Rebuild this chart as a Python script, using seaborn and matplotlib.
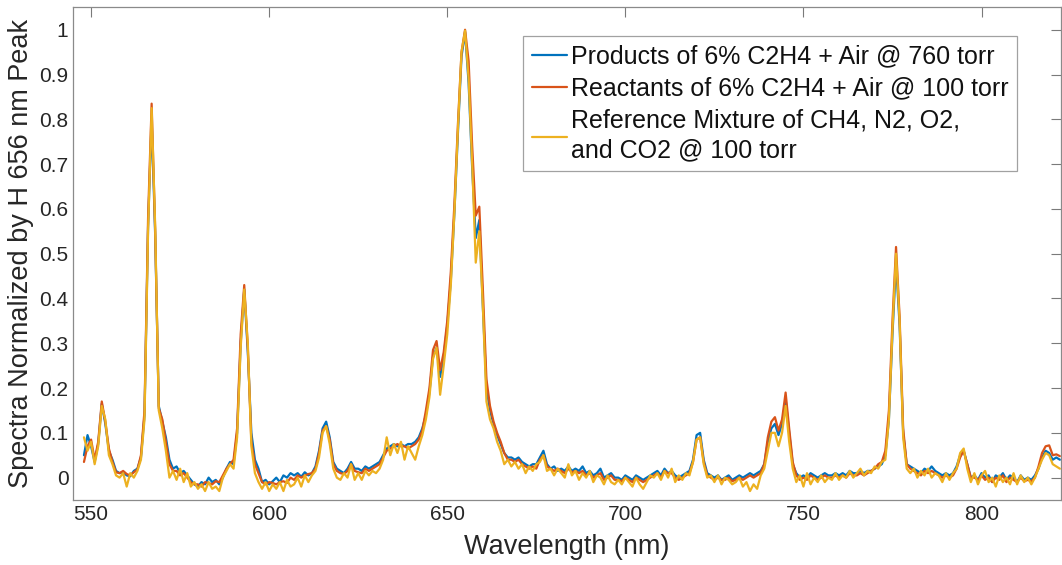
import numpy as np
import pandas as pd
import matplotlib
matplotlib.use("Agg")
import matplotlib.pyplot as plt
import matplotlib.ticker as mticker
import seaborn as sns

# Wavelength grid (nm), 1 nm steps from 548 to 822
wavelength = np.arange(548, 823, 1)

# Products of 6% C2H4 + Air @ 760 torr (blue)
products = [
    0.050, 0.095, 0.070, 0.035, 0.075, 0.165, 0.120, 0.060, 0.040, 0.015,
    0.010, 0.012, 0.005, 0.003, 0.015, 0.020, 0.045, 0.140, 0.560, 0.800,
    0.540, 0.160, 0.125, 0.090, 0.040, 0.020, 0.025, 0.010, 0.015, 0.005,
    -0.005, -0.015, -0.020, -0.010, -0.015, 0.000, -0.010, -0.005, -0.015, 0.000,
    0.020, 0.035, 0.030, 0.100, 0.300, 0.420, 0.280, 0.100, 0.040, 0.020,
    -0.010, -0.005, -0.015, -0.008, 0.000, -0.010, 0.005, 0.000, 0.010, 0.005,
    0.010, 0.002, 0.012, 0.005, 0.010, 0.025, 0.060, 0.110, 0.125, 0.090,
    0.035, 0.020, 0.015, 0.010, 0.020, 0.035, 0.020, 0.020, 0.015, 0.025,
    0.020, 0.025, 0.030, 0.035, 0.050, 0.065, 0.070, 0.075, 0.070, 0.075,
    0.070, 0.075, 0.075, 0.080, 0.090, 0.110, 0.140, 0.190, 0.270, 0.290,
    0.225, 0.270, 0.340, 0.440, 0.590, 0.770, 0.940, 0.995, 0.880, 0.690,
    0.535, 0.575, 0.380, 0.200, 0.150, 0.120, 0.095, 0.075, 0.055, 0.045,
    0.045, 0.040, 0.045, 0.035, 0.030, 0.025, 0.030, 0.030, 0.045, 0.060,
    0.030, 0.020, 0.025, 0.015, 0.020, 0.015, 0.025, 0.015, 0.020, 0.015,
    0.025, 0.010, 0.015, 0.005, 0.010, 0.020, 0.000, 0.005, 0.010, 0.000,
    0.000, -0.005, 0.005, 0.000, -0.005, 0.005, 0.000, -0.005, 0.000, 0.005,
    0.010, 0.015, 0.005, 0.020, 0.010, 0.015, 0.005, 0.000, 0.005, 0.010,
    0.015, 0.040, 0.095, 0.100, 0.040, 0.010, 0.005, 0.000, 0.005, -0.005,
    0.000, 0.005, -0.005, 0.000, 0.005, 0.000, 0.005, 0.010, 0.005, 0.010,
    0.015, 0.030, 0.080, 0.110, 0.120, 0.095, 0.120, 0.175, 0.100, 0.030,
    0.010, 0.000, 0.005, 0.000, 0.010, 0.005, 0.000, 0.005, 0.010, 0.005,
    0.005, 0.010, 0.005, 0.010, 0.005, 0.015, 0.010, 0.010, 0.015, 0.010,
    0.015, 0.015, 0.020, 0.025, 0.030, 0.050, 0.130, 0.320, 0.480, 0.340,
    0.100, 0.030, 0.025, 0.020, 0.015, 0.010, 0.020, 0.015, 0.025, 0.015,
    0.010, 0.005, 0.010, 0.005, 0.010, 0.025, 0.050, 0.060, 0.030, 0.000,
    0.005, -0.005, 0.010, 0.000, 0.005, -0.010, 0.005, 0.000, 0.010, -0.005,
    0.005, 0.000, -0.010, 0.005, -0.005, 0.000, -0.005, 0.005, 0.020, 0.045,
    0.060, 0.055, 0.040, 0.045, 0.040,
]

# Reactants of 6% C2H4 + Air @ 100 torr (red)
reactants = [
    0.035, 0.070, 0.085, 0.040, 0.080, 0.170, 0.125, 0.065, 0.035, 0.012,
    0.010, 0.015, 0.008, 0.005, 0.012, 0.018, 0.050, 0.150, 0.580, 0.835,
    0.550, 0.155, 0.130, 0.080, 0.030, 0.015, 0.015, 0.005, 0.010, 0.000,
    -0.010, -0.015, -0.015, -0.020, -0.010, -0.012, -0.015, -0.008, -0.010, 0.005,
    0.020, 0.030, 0.040, 0.110, 0.320, 0.430, 0.290, 0.080, 0.030, 0.010,
    -0.010, -0.015, -0.010, -0.012, -0.015, -0.010, -0.008, -0.012, 0.000, -0.005,
    0.005, 0.000, 0.005, 0.008, 0.010, 0.020, 0.055, 0.105, 0.115, 0.085,
    0.030, 0.015, 0.010, 0.008, 0.015, 0.030, 0.015, 0.012, 0.010, 0.020,
    0.015, 0.020, 0.025, 0.030, 0.045, 0.060, 0.065, 0.070, 0.075, 0.070,
    0.070, 0.065, 0.070, 0.075, 0.085, 0.105, 0.150, 0.200, 0.285, 0.305,
    0.240, 0.280, 0.350, 0.460, 0.610, 0.790, 0.950, 1.000, 0.930, 0.740,
    0.585, 0.605, 0.420, 0.220, 0.160, 0.125, 0.100, 0.080, 0.055, 0.040,
    0.040, 0.035, 0.040, 0.030, 0.025, 0.020, 0.025, 0.020, 0.040, 0.050,
    0.025, 0.020, 0.015, 0.020, 0.015, 0.010, 0.020, 0.012, 0.015, 0.010,
    0.015, 0.005, 0.010, 0.000, 0.005, 0.010, -0.005, 0.000, 0.005, -0.005,
    -0.005, -0.008, 0.000, -0.005, -0.010, 0.000, -0.005, -0.010, -0.005, 0.000,
    0.005, 0.010, 0.000, 0.015, 0.010, 0.010, 0.000, -0.005, 0.000, 0.005,
    0.010, 0.035, 0.085, 0.090, 0.035, 0.005, 0.000, -0.005, 0.000, -0.005,
    -0.005, 0.000, -0.008, -0.005, 0.000, -0.005, 0.000, 0.005, 0.000, 0.005,
    0.010, 0.030, 0.090, 0.125, 0.135, 0.105, 0.130, 0.190, 0.110, 0.035,
    0.005, -0.005, 0.000, -0.005, 0.005, 0.000, -0.005, 0.000, 0.005, 0.000,
    0.000, 0.005, 0.000, 0.005, 0.000, 0.010, 0.005, 0.005, 0.010, 0.005,
    0.010, 0.015, 0.020, 0.030, 0.035, 0.060, 0.150, 0.350, 0.515, 0.360,
    0.110, 0.030, 0.020, 0.015, 0.010, 0.005, 0.015, 0.010, 0.015, 0.010,
    0.005, 0.000, 0.005, 0.000, 0.005, 0.020, 0.045, 0.060, 0.030, 0.000,
    0.000, -0.005, 0.005, -0.005, 0.000, -0.010, 0.000, -0.005, 0.005, -0.010,
    0.000, -0.005, -0.010, 0.000, -0.008, -0.005, -0.008, 0.000, 0.025, 0.055,
    0.070, 0.072, 0.050, 0.052, 0.048,
]

# Reference Mixture of CH4, N2, O2, and CO2 @ 100 torr (yellow)
reference = [
    0.090, 0.060, 0.080, 0.030, 0.070, 0.160, 0.130, 0.050, 0.030, 0.005,
    0.000, 0.010, -0.020, 0.010, 0.000, 0.015, 0.040, 0.130, 0.550, 0.825,
    0.560, 0.150, 0.110, 0.060, 0.000, 0.015, -0.005, 0.020, -0.010, 0.010,
    -0.020, -0.010, -0.025, -0.015, -0.030, -0.010, -0.025, -0.020, -0.030, 0.000,
    0.015, 0.030, 0.020, 0.090, 0.290, 0.420, 0.300, 0.070, 0.010, -0.010,
    -0.025, -0.010, -0.030, -0.015, -0.025, -0.010, -0.030, -0.005, -0.020, -0.015,
    0.000, -0.020, 0.005, -0.010, 0.005, 0.015, 0.045, 0.100, 0.115, 0.075,
    0.020, 0.000, -0.005, 0.010, 0.000, 0.030, -0.005, 0.010, -0.005, 0.015,
    0.005, 0.015, 0.010, 0.020, 0.040, 0.090, 0.050, 0.075, 0.055, 0.080,
    0.040, 0.070, 0.055, 0.040, 0.070, 0.095, 0.130, 0.180, 0.265, 0.290,
    0.185, 0.250, 0.320, 0.430, 0.590, 0.780, 0.950, 0.998, 0.890, 0.700,
    0.480, 0.550, 0.380, 0.170, 0.130, 0.110, 0.080, 0.060, 0.030, 0.040,
    0.025, 0.035, 0.020, 0.030, 0.010, 0.025, 0.015, 0.030, 0.035, 0.050,
    0.015, 0.020, 0.005, 0.020, 0.010, 0.000, 0.030, 0.005, 0.015, -0.005,
    0.010, 0.000, 0.015, -0.010, 0.005, 0.000, -0.015, 0.005, -0.010, -0.015,
    -0.005, -0.015, 0.000, -0.010, -0.020, 0.000, -0.015, -0.025, -0.010, 0.005,
    0.000, 0.010, -0.005, 0.015, 0.000, 0.020, -0.010, 0.005, -0.005, 0.010,
    0.005, 0.035, 0.085, 0.090, 0.030, 0.000, 0.005, -0.010, 0.005, -0.015,
    0.000, -0.005, -0.015, -0.010, 0.000, -0.020, -0.010, -0.030, -0.015, -0.025,
    0.005, 0.020, 0.060, 0.100, 0.100, 0.070, 0.100, 0.160, 0.080, 0.020,
    -0.010, 0.005, -0.020, 0.010, -0.015, 0.000, -0.010, 0.005, -0.010, 0.000,
    -0.005, 0.010, -0.005, 0.005, 0.000, 0.015, 0.000, 0.010, 0.020, 0.005,
    0.015, 0.010, 0.025, 0.020, 0.035, 0.040, 0.130, 0.330, 0.500, 0.350,
    0.090, 0.020, 0.010, 0.020, 0.000, 0.015, 0.005, 0.020, 0.000, 0.010,
    0.005, -0.010, 0.010, -0.005, 0.010, 0.020, 0.055, 0.065, 0.020, -0.010,
    0.010, -0.015, 0.005, 0.015, -0.010, 0.000, -0.020, 0.005, -0.010, 0.000,
    -0.015, 0.010, -0.015, 0.005, -0.010, 0.000, -0.015, 0.000, 0.020, 0.040,
    0.055, 0.050, 0.030, 0.025, 0.020,
]

labels = [
    "Products of 6% C2H4 + Air @ 760 torr",
    "Reactants of 6% C2H4 + Air @ 100 torr",
    "Reference Mixture of CH4, N2, O2,\nand CO2 @ 100 torr",
]
colors = ["#0072BD", "#D95319", "#EDB120"]

df = pd.concat([
    pd.DataFrame({"wavelength": wavelength, "value": vals, "series": lab})
    for vals, lab in zip([products, reactants, reference], labels)
])

sns.set_theme(style="white")
plt.rcParams["font.family"] = ["Liberation Sans", "DejaVu Sans"]

fig = plt.figure(figsize=(10.62, 5.65), dpi=100)
ax = fig.add_axes([0.069, 0.115, 0.930, 0.872])

sns.lineplot(data=df, x="wavelength", y="value", hue="series", hue_order=labels,
             palette=colors, linewidth=1.6, sort=False, estimator=None, ax=ax)

ax.set_xlim(545, 822.3)
ax.set_ylim(-0.05, 1.05)
ax.set_xticks([550, 600, 650, 700, 750, 800])
ax.set_yticks(np.arange(0, 1.01, 0.1))
ax.yaxis.set_major_formatter(mticker.FuncFormatter(lambda v, _: f"{v:.1f}".rstrip("0").rstrip(".") if abs(v) > 1e-9 else "0"))

ax.set_xlabel("Wavelength (nm)", fontsize=19.5, color="#262626", labelpad=7)
ax.set_ylabel("Spectra Normalized by H 656 nm Peak", fontsize=19.5, color="#262626", labelpad=4)
ax.tick_params(axis="both", which="both", direction="in", length=7, width=0.8,
               colors="#7a7a7a", labelcolor="#262626", labelsize=15,
               top=True, right=True)
for sp in ax.spines.values():
    sp.set_color("#8a8a8a")
    sp.set_linewidth(0.9)

handles, _ = ax.get_legend_handles_labels()
leg = ax.legend(handles, labels, loc="upper right", bbox_to_anchor=(0.9558, 0.9424),
                borderaxespad=0, fontsize=18, frameon=True, fancybox=False,
                handlelength=1.4, handletextpad=0.15, labelspacing=0.33,
                borderpad=0.35)
leg.get_frame().set_edgecolor("#8a8a8a")
leg.get_frame().set_linewidth(0.9)
for t in leg.get_texts():
    t.set_color("#111111")
    t.set_linespacing(1.3)

fig.savefig("out.png", dpi=100)
